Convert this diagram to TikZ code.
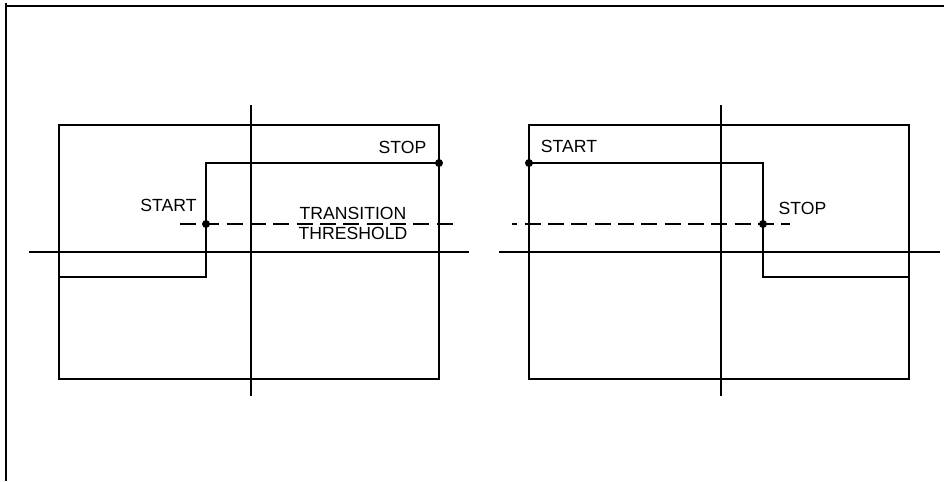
\documentclass[tikz,border=0pt]{standalone}
\usepackage{fontspec}
\setmainfont{Liberation Sans}
\usepackage{tikz}

\tikzset{
  wave/.style={line width=1.3pt},
  axisline/.style={line width=1.3pt},
  threshold/.style={line width=2pt,dash pattern=on 12pt off 5.5pt},
  edgedot/.style={circle,fill,inner sep=0pt,minimum size=6pt},
  lbl/.style={inner sep=0pt,font=\fontsize{13.2}{15}\selectfont}
}

\begin{document}
\begin{tikzpicture}[x=0.75pt,y=0.75pt,yscale=-1,xscale=1]
\useasboundingbox (0,0) rectangle (944,481);

%Frame
\draw [line width=2.2pt] (6,481) -- (6,3) ;
\draw [line width=2.2pt] (5,6) -- (944,6) ;

%Shape: Rectangle (left)
\draw [axisline] (59,125) rectangle (439,379) ;
%Straight Lines: axes (left)
\draw [axisline] (29,252) -- (469,252) ;
\draw [axisline] (251,105) -- (251,396) ;

%Shape: Rectangle (right)
\draw [axisline] (529,125) rectangle (909,379) ;
%Straight Lines: axes (right)
\draw [axisline] (499,252) -- (940,252) ;
\draw [axisline] (721,105) -- (721,396) ;

%Rising edge (left)
\coordinate (lowL) at (59,277) ;
\coordinate (stepL) at (206,277) ;
\coordinate (topL) at (206,163) ;
\node [edgedot] (startL) at (206,224) {} ;
\node [edgedot] (stopL) at (439,163) {} ;
\draw [wave] (lowL) -- (stepL) -- (topL) -- (stopL.center) ;
%Dashed threshold (left)
\draw [threshold] (180,224) -- (458,224) ;

%Falling edge (right)
\node [edgedot] (startR) at (529,163) {} ;
\coordinate (topR) at (763,163) ;
\coordinate (stepR) at (763,277) ;
\coordinate (lowR) at (909,277) ;
\node [edgedot] (stopR) at (763,224) {} ;
\draw [wave] (startR.center) -- (topR) -- (stepR) -- (lowR) ;
%Dashed threshold (right)
\draw [threshold,dash phase=8pt] (512,224) -- (790,224) ;

% Text Node
\node [lbl] (stoplblL) at (402.5,147) {STOP};
% Text Node
\node [lbl] (startlblL) at (168.5,205.5) {START};
% Text Node
\node [lbl] (transition) at (353,213) {TRANSITION};
% Text Node
\node [lbl] (thresholdlbl) at (353,233) {THRESHOLD};
% Text Node
\node [lbl] (startlblR) at (569,146) {START};
% Text Node
\node [lbl] (stoplblR) at (802.5,208.5) {STOP};

\end{tikzpicture}
\end{document}
